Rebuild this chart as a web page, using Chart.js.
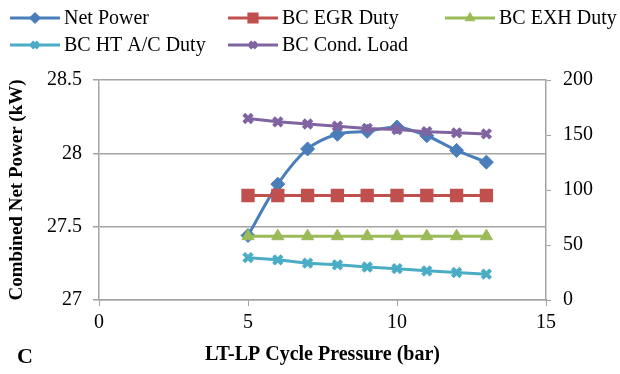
<!DOCTYPE html>
<html lang="en">
<head>
    <meta charset="UTF-8">
    <title>LT-LP Cycle Pressure</title>
    <style>
        body {
            margin: 0;
            background: #fff;
        }
        .container {
            width: 620px;
            height: 374px;
        }
    </style>
</head>
<body>
    <div class="container">
        <canvas id="myChart" width="620" height="374"></canvas>
    </div>
    <script src="https://cdn.jsdelivr.net/npm/chart.js@4/dist/chart.umd.min.js"></script>
    <script>
        // values
        const pressure = [5, 6, 7, 8, 9, 10, 11, 12, 13];
        const netPower = [27.44, 27.79, 28.03, 28.13, 28.15, 28.18, 28.12, 28.02, 27.94];
        const egrDuty = [95, 95, 95, 95, 95, 95, 95, 95, 95];
        const exhDuty = [58, 58, 58, 58, 58, 58, 58, 58, 58];
        const htAcDuty = [38.5, 36.5, 33.5, 32, 30, 28.5, 26.5, 25, 23.5];
        const condLoad = [165, 162, 160, 158, 156, 155, 153, 152, 151];
        const xTicks = [0, 5, 10, 15];
        const leftTicks = [27, 27.5, 28, 28.5];
        const rightTicks = [0, 50, 100, 150, 200];

        const font = "'Times New Roman', 'Liberation Serif', 'DejaVu Serif', serif";
        const gridColor = '#a3a3a3';

        function pts(ys) {
            return pressure.map((x, i) => ({x: x, y: ys[i]}));
        }

        function series(label, ys, color, style, radius, axis, order, bw) {
            return {
                label: label,
                data: pts(ys),
                yAxisID: axis,
                borderColor: color,
                backgroundColor: color,
                borderWidth: 3,
                pointStyle: style,
                pointRadius: radius,
                pointHoverRadius: radius,
                pointBorderWidth: bw,
                pointBackgroundColor: color,
                pointBorderColor: color,
                tension: 0,
                order: order
            };
        }

        const data = {
            datasets: [
                series('Net Power', netPower, '#4a7ebb', 'rectRot', 7, 'y', 5, 1),
                series('BC EGR Duty', egrDuty, '#c0504d', 'rect', 8, 'y1', 4, 2),
                series('BC EXH Duty', exhDuty, '#9bbb59', 'triangle', 7, 'y1', 3, 1),
                series('BC HT A/C Duty', htAcDuty, '#4bacc6', 'crossRot', 6, 'y1', 2, 4),
                series('BC Cond. Load', condLoad, '#8064a2', 'crossRot', 6, 'y1', 1, 4)
            ]
        };
        // only the net power line is smoothed in the original
        data.datasets[0].tension = 0.3;

        // Excel style legend in fixed columns, plus the panel letter
        const extras = {
            id: 'extras',
            afterDraw(chart) {
                const ctx = chart.ctx;
                const spots = [[10, 18], [228, 18], [445, 18], [10, 45], [228, 45]];
                ctx.save();
                chart.data.datasets.forEach((d, i) => {
                    const [x, y] = spots[i];
                    ctx.strokeStyle = d.borderColor;
                    ctx.fillStyle = d.borderColor;
                    ctx.lineWidth = 3;
                    ctx.beginPath();
                    ctx.moveTo(x, y);
                    ctx.lineTo(x + 50, y);
                    ctx.stroke();
                    ctx.lineWidth = d.pointBorderWidth;
                    Chart.helpers.drawPoint(ctx, {
                        pointStyle: d.pointStyle,
                        radius: d.pointRadius - 1.5,
                        borderWidth: d.pointBorderWidth,
                        rotation: 0
                    }, x + 25, y);
                    ctx.fillStyle = '#000';
                    ctx.font = 'normal 20px ' + font;
                    ctx.textBaseline = 'middle';
                    ctx.textAlign = 'left';
                    ctx.fillText(d.label, x + 54, y + 1);
                });
                ctx.font = 'bold 22px ' + font;
                ctx.fillStyle = '#000';
                ctx.textBaseline = 'middle';
                ctx.fillText('C', 17, 357);
                ctx.restore();
            }
        };

        const ctx = document.getElementById('myChart').getContext('2d');
        const myChart = new Chart(ctx, {
            type: 'line',
            data: data,
            plugins: [extras],
            options: {
                responsive: false,
                animation: false,
                events: [],
                layout: {
                    padding: {top: 80, left: 0, right: 0, bottom: 0}
                },
                plugins: {
                    legend: {display: false},
                    tooltip: {enabled: false}
                },
                scales: {
                    x: {
                        type: 'linear',
                        min: 0,
                        max: 15,
                        afterFit: s => { s.height = 74; },
                        afterBuildTicks: s => { s.ticks = xTicks.map(v => ({value: v})); },
                        ticks: {
                            color: '#000',
                            padding: 5,
                            maxRotation: 0,
                            font: {family: font, size: 20}
                        },
                        grid: {
                            drawOnChartArea: false,
                            tickLength: 6,
                            color: gridColor
                        },
                        border: {color: gridColor, width: 1.5},
                        title: {
                            display: true,
                            text: 'LT-LP Cycle Pressure (bar)',
                            color: '#000',
                            padding: {top: 0, bottom: 7},
                            font: {family: font, size: 20, weight: 'bold'}
                        }
                    },
                    y: {
                        position: 'left',
                        min: 27,
                        max: 28.5,
                        afterFit: s => { s.width = 99; },
                        afterBuildTicks: s => { s.ticks = leftTicks.map(v => ({value: v})); },
                        ticks: {
                            color: '#000',
                            padding: 11,
                            callback: v => String(v),
                            font: {family: font, size: 20}
                        },
                        grid: {
                            tickLength: 6,
                            color: gridColor,
                            lineWidth: 1.5
                        },
                        border: {color: gridColor, width: 1.5},
                        title: {
                            display: true,
                            text: 'Combined Net Power (kW)',
                            color: '#000',
                            padding: {top: 6, bottom: 0},
                            font: {family: font, size: 19, weight: 'bold'}
                        }
                    },
                    y1: {
                        position: 'right',
                        min: 0,
                        max: 200,
                        afterFit: s => { s.width = 74; },
                        afterBuildTicks: s => { s.ticks = rightTicks.map(v => ({value: v})); },
                        ticks: {
                            color: '#000',
                            padding: 12,
                            font: {family: font, size: 20}
                        },
                        grid: {
                            drawOnChartArea: false,
                            tickLength: 5,
                            color: gridColor
                        },
                        border: {color: gridColor, width: 1.5}
                    }
                }
            }
        });
    </script>
</body>
</html>
